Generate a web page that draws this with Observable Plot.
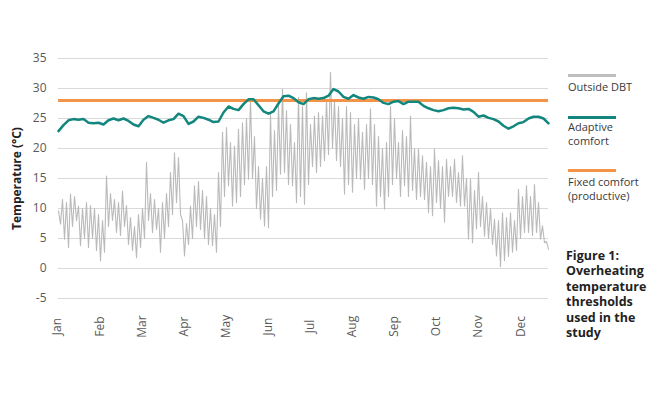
<!DOCTYPE html>
<html><head><meta charset="utf-8">
<script src="https://cdn.jsdelivr.net/npm/d3@7"></script>
<script src="https://cdn.jsdelivr.net/npm/@observablehq/plot@0.6"></script>
<style>
body{margin:0;background:#fff;font-family:"Open Sans",sans-serif;}
#wrap{position:relative;width:650px;height:396px;overflow:hidden;}
#chart{position:absolute;left:0;top:0;}
.leg{position:absolute;left:568px;font-size:11px;color:#3a3a3a;line-height:13.5px;white-space:nowrap;}
.sw{position:absolute;left:568px;width:48px;height:3px;}
#cap{position:absolute;left:566px;top:248px;font-weight:700;font-size:12.5px;line-height:15.4px;color:#222;}
</style></head><body>
<div id="wrap">
<div id="chart"></div>
<div class="sw" style="top:73.5px;background:#bfbfbf"></div>
<div class="leg" style="top:80px">Outside DBT</div>
<div class="sw" style="top:115.5px;background:#13877e"></div>
<div class="leg" style="top:120px">Adaptive<br>comfort</div>
<div class="sw" style="top:168.5px;background:#f39448"></div>
<div class="leg" style="top:175px">Fixed comfort<br>(productive)</div>
<div id="cap">Figure 1:<br>Overheating<br>temperature<br>thresholds<br>used in the<br>study</div>
</div>
<script>
const months = ["Jan","Feb","Mar","Apr","May","Jun","Jul","Aug","Sep","Oct","Nov","Dec"];
const yTicks = [-5, 0, 5, 10, 15, 20, 25, 30, 35];
const xStart = -0.07, xEnd = 11.57; // visible span of the year in month units
const fixedComfort = 28;
const outsideDBT = [
 9.6,7.4, 11.5,4.9, 11,3.5, 12.4,7, 12,8, 10.4,3.8, 10,5, 11,3.5, 10.5,5, 10,3,
 9,1.3, 8,2.7, 15.4,7, 12.5,8, 11.5,6, 11,5.5, 12.9,7, 10.5,4, 8.5,3, 7,1.8,
 9,3.5, 10,5, 17.7,8, 12.5,6, 11.5,6.5, 10,2.7, 11,5, 12.5,7, 16,9, 19.3,11,
 18.5,9, 8,2.1, 7.5,4, 10.4,5, 13.8,7, 14.5,6.5, 13,5, 12,4, 10,3.8, 9,2.7,
 16,7, 22.7,12, 23.5,13.8, 21,10.4, 20.4,11, 23.2,12, 24.3,14, 25,14.9, 28.2,15, 22,10,
 17,8.2, 15,7.1, 17,6.8, 25.7,12, 23,13, 27.4,15.7, 29.9,16, 26.3,14, 24,13.8, 21,11,
 28.5,12, 27,10.7, 29.3,14, 24,17, 25.4,16, 26,17, 25.4,18, 28,19, 32.7,20, 28,18,
 27,17, 25,12.4, 27,14, 26,12.7, 24,15, 25,14.9, 22.7,13.2, 24,15, 26.6,14, 24,10.4,
 22,12, 20,9.9, 21,12, 27,14, 25,15, 21,12, 23,13.8, 22,12, 25.4,13, 20,11.5,
 19.9,12, 18.8,11.5, 17.7,9.3, 17,8.8, 19.9,11, 18,10, 17,7.7, 18.2,12, 17,12, 18.2,11,
 16,10.4, 18.8,10.4, 15,4.9, 14.9,4.3, 13,6.6, 16,7, 12,5.4, 11,5, 10,4, 8.2,2.1,
 8,0.3, 9.3,1.3, 8.5,2, 9.3,2.7, 8,3, 13.2,5, 12,6, 13.8,6, 12,5.5, 14,6,
 11,4.9, 7.1,4.3, 4.5,3.2
];
const adaptiveComfort = [
 22.9,23.9,24.7,24.9,24.8,24.9,24.3,24.2,24.3,24.0,
 24.7,25.0,24.7,25.0,24.6,24.0,23.7,24.8,25.4,25.1,
 24.8,24.3,24.7,24.9,25.8,25.4,24.1,24.5,25.3,25.1,
 24.8,24.4,24.5,26.0,27.0,26.6,26.4,27.4,28.2,28.2,
 27.2,26.2,25.8,26.2,27.5,28.7,28.8,28.4,27.7,27.4,
 28.2,28.4,28.3,28.4,28.8,29.9,29.5,28.6,28.3,28.9,
 28.5,28.3,28.6,28.5,28.2,27.6,27.4,27.8,27.9,27.4,
 27.8,27.8,27.8,27.1,26.7,26.4,26.2,26.4,26.7,26.8,
 26.7,26.5,26.6,26.1,25.3,25.5,25.1,24.9,24.5,23.8,
 23.3,23.7,24.2,24.4,25.0,25.3,25.3,25.0,24.2
];
const posX = (n) => (d, i) => xStart + i * (xEnd - xStart) / (n - 1);

const chart = Plot.plot({
  width: 650, height: 396,
  marginLeft: 58, marginRight: 102, marginTop: 58, marginBottom: 98,
  x: {domain: [xStart, xEnd], axis: null},
  y: {domain: [-5, 35], axis: null},
  style: {fontFamily: "'Open Sans', sans-serif", fontSize: "12px", background: "transparent"},
  marks: [
    Plot.gridY(yTicks, {stroke: "#d9d9d9", strokeOpacity: 1, strokeWidth: 1}),
    Plot.axisY(yTicks, {tickSize: 0, tickPadding: 12, fill: "#595959", fontSize: 12, tickFormat: d => String(d)}),
    Plot.text(months, {x: (d, i) => i, frameAnchor: "bottom", dy: 28, rotate: -90, textAnchor: "middle", fill: "#595959", fontSize: 12}),
    Plot.line(outsideDBT, {x: posX(outsideDBT.length), y: d => d, stroke: "#bababa", strokeWidth: 1.1}),
    Plot.ruleY([fixedComfort], {stroke: "#f39448", strokeWidth: 3}),
    Plot.line(adaptiveComfort, {x: posX(adaptiveComfort.length), y: d => d, stroke: "#13877e", strokeWidth: 2.5}),
    Plot.text(["Temperature (°C)"], {frameAnchor: "left", dx: -41, rotate: -90, textAnchor: "middle", fontWeight: "bold", fontSize: 12, fill: "#222"})
  ]
});
document.getElementById("chart").appendChild(chart);
</script>
</body></html>
